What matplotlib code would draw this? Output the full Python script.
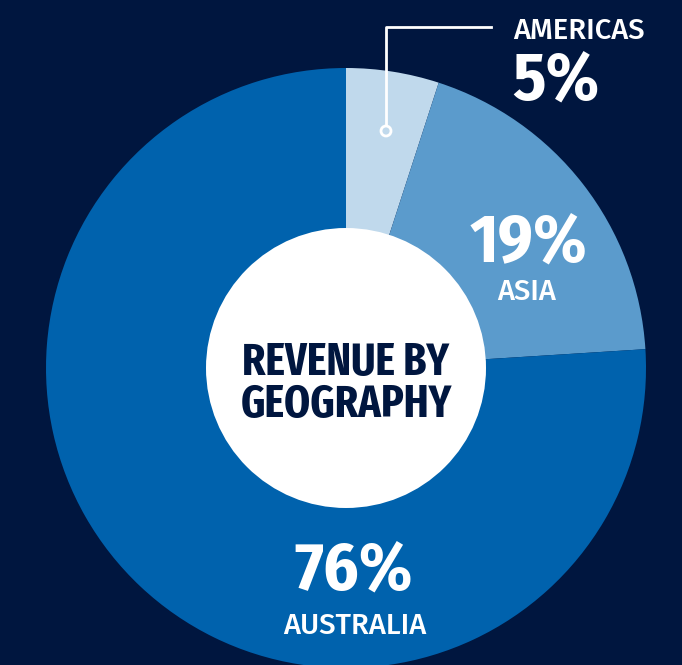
import matplotlib.pyplot as plt
from matplotlib.patches import Circle

# datos del grafico
regiones = ["Americas", "Asia", "Australia"]
porcentajes = [5, 19, 76]
colores = ["#c0d9ec", "#5b9bcc", "#0062ad"]
etiquetas = ["AMERICAS", "ASIA", "AUSTRALIA"]

fondo = "#00163f"
fuente_num = ["Fira Sans Condensed", "DejaVu Sans"]
fuente_centro = ["Fira Sans Extra Condensed", "DejaVu Sans"]
fuente_etiq = ["Fira Sans", "DejaVu Sans"]

W, H = 682, 665
fig = plt.figure(figsize=(W / 100, H / 100), dpi=100, facecolor=fondo)
ax = fig.add_axes([0, 0, 1, 1])
ax.set_facecolor(fondo)

cx, cy, r = 346, H - 368, 300
ax.pie(porcentajes, colors=colores, startangle=90, counterclock=False,
       center=(cx, cy), radius=r, frame=True,
       wedgeprops=dict(linewidth=0))
ax.set_xlim(0, W)
ax.set_ylim(0, H)
ax.set_aspect("equal")
ax.axis("off")

# circulo central
ax.add_patch(Circle((cx, cy), 140, facecolor="white", edgecolor="none", zorder=3))
ax.text(cx, H - 375, "REVENUE BY", ha="center", va="baseline", fontsize=32.5,
        fontweight=700, color=fondo, family=fuente_centro, zorder=4)
ax.text(cx, H - 417, "GEOGRAPHY", ha="center", va="baseline", fontsize=32.5,
        fontweight=700, color=fondo, family=fuente_centro, zorder=4)

# linea guia de Americas
ax.plot([386, 386, 491], [H - 126, H - 27, H - 27], color="white", lw=2, zorder=4)
ax.add_patch(Circle((386, H - 131), 5, facecolor=colores[0], edgecolor="white",
                    lw=2, zorder=5))

ax.text(513, H - 39, etiquetas[0], ha="left", va="baseline", fontsize=21,
        fontweight=500, color="white", family=fuente_etiq)
ax.text(512, H - 100, f"{porcentajes[0]}%", ha="left", va="baseline", fontsize=49,
        fontweight=700, color="white", family=fuente_num)

ax.text(528, H - 261, f"{porcentajes[1]}%", ha="center", va="baseline", fontsize=49,
        fontweight=700, color="white", family=fuente_num)
ax.text(527, H - 300, etiquetas[1], ha="center", va="baseline", fontsize=21,
        fontweight=500, color="white", family=fuente_etiq)

ax.text(354, H - 590, f"{porcentajes[2]}%", ha="center", va="baseline", fontsize=49,
        fontweight=700, color="white", family=fuente_num)
ax.text(355, H - 634, etiquetas[2], ha="center", va="baseline", fontsize=21,
        fontweight=500, color="white", family=fuente_etiq)

fig.savefig("out.png", dpi=100, facecolor=fondo)
